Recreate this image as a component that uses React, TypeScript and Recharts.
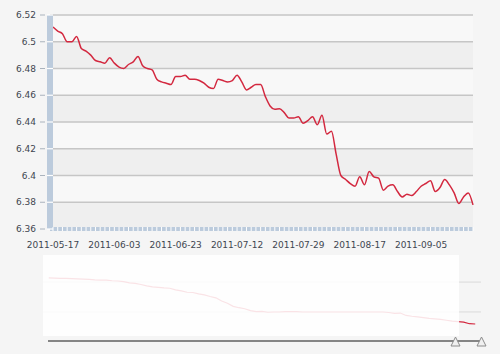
import { LineChart, Line, XAxis, YAxis, CartesianGrid, ReferenceArea } from 'recharts';

// daily fixing, business days only (Jun 6 and Sep 12 are holidays)
const dates = [
  '2011-05-17', '2011-05-18', '2011-05-19', '2011-05-20', '2011-05-23', '2011-05-24', '2011-05-25',
  '2011-05-26', '2011-05-27', '2011-05-30', '2011-05-31', '2011-06-01', '2011-06-02', '2011-06-03',
  '2011-06-07', '2011-06-08', '2011-06-09', '2011-06-10', '2011-06-13', '2011-06-14', '2011-06-15',
  '2011-06-16', '2011-06-17', '2011-06-20', '2011-06-21', '2011-06-22', '2011-06-23', '2011-06-24',
  '2011-06-27', '2011-06-28', '2011-06-29', '2011-06-30', '2011-07-01', '2011-07-04', '2011-07-05',
  '2011-07-06', '2011-07-07', '2011-07-08', '2011-07-11', '2011-07-12', '2011-07-13', '2011-07-14',
  '2011-07-15', '2011-07-18', '2011-07-19', '2011-07-20', '2011-07-21', '2011-07-22', '2011-07-25',
  '2011-07-26', '2011-07-27', '2011-07-28', '2011-07-29', '2011-08-01', '2011-08-02', '2011-08-03',
  '2011-08-04', '2011-08-05', '2011-08-08', '2011-08-09', '2011-08-10', '2011-08-11', '2011-08-12',
  '2011-08-15', '2011-08-16', '2011-08-17', '2011-08-18', '2011-08-19', '2011-08-22', '2011-08-23',
  '2011-08-24', '2011-08-25', '2011-08-26', '2011-08-29', '2011-08-30', '2011-08-31', '2011-09-01',
  '2011-09-02', '2011-09-05', '2011-09-06', '2011-09-07', '2011-09-08', '2011-09-09', '2011-09-13',
  '2011-09-14', '2011-09-15', '2011-09-16', '2011-09-19', '2011-09-20', '2011-09-21',
];

const rates = [
  6.511, 6.508, 6.506, 6.5, 6.5, 6.504, 6.495, 6.493, 6.49, 6.486,
  6.485, 6.484, 6.488, 6.484, 6.481, 6.48, 6.483, 6.485, 6.489, 6.482,
  6.48, 6.479, 6.472, 6.47, 6.469, 6.468, 6.474, 6.474, 6.475, 6.472,
  6.472, 6.471, 6.469, 6.466, 6.465, 6.472, 6.471, 6.47, 6.471, 6.475,
  6.47, 6.464, 6.466, 6.468, 6.468, 6.459, 6.452, 6.4495, 6.45, 6.447,
  6.443, 6.443, 6.444, 6.439, 6.441, 6.444, 6.438, 6.445, 6.431, 6.433,
  6.416, 6.4, 6.397, 6.394, 6.392, 6.399, 6.393, 6.403, 6.399, 6.398,
  6.389, 6.392, 6.393, 6.388, 6.384, 6.386, 6.385, 6.388, 6.392, 6.394,
  6.396, 6.388, 6.391, 6.397, 6.393, 6.387, 6.379, 6.384, 6.387, 6.378,
];

const yTicks = [
  6.36, 6.37, 6.38, 6.39, 6.4, 6.41, 6.42, 6.43, 6.44,
  6.45, 6.46, 6.47, 6.48, 6.49, 6.5, 6.51, 6.52,
];
const yGrid = [6.36, 6.38, 6.4, 6.42, 6.44, 6.46, 6.48, 6.5, 6.52];

// scrollbar overview: monthly, 2005-07 .. 2011-09
const navMonths = [
  '2005-07', '2005-08', '2005-09', '2005-10', '2005-11', '2005-12',
  '2006-01', '2006-02', '2006-03', '2006-04', '2006-05', '2006-06',
  '2006-07', '2006-08', '2006-09', '2006-10', '2006-11', '2006-12',
  '2007-01', '2007-02', '2007-03', '2007-04', '2007-05', '2007-06',
  '2007-07', '2007-08', '2007-09', '2007-10', '2007-11', '2007-12',
  '2008-01', '2008-02', '2008-03', '2008-04', '2008-05', '2008-06',
  '2008-07', '2008-08', '2008-09', '2008-10', '2008-11', '2008-12',
  '2009-01', '2009-02', '2009-03', '2009-04', '2009-05', '2009-06',
  '2009-07', '2009-08', '2009-09', '2009-10', '2009-11', '2009-12',
  '2010-01', '2010-02', '2010-03', '2010-04', '2010-05', '2010-06',
  '2010-07', '2010-08', '2010-09', '2010-10', '2010-11', '2010-12',
  '2011-01', '2011-02', '2011-03', '2011-04', '2011-05', '2011-06',
  '2011-07', '2011-08', '2011-09',
];
const navRates = [
  8.11, 8.1, 8.09, 8.09, 8.08, 8.07,
  8.06, 8.05, 8.03, 8.02, 8.02, 8.0,
  7.99, 7.97, 7.92, 7.9, 7.86, 7.81,
  7.77, 7.75, 7.73, 7.72, 7.66, 7.62,
  7.57, 7.56, 7.51, 7.47, 7.41, 7.36,
  7.24, 7.16, 7.04, 6.99, 6.95, 6.88,
  6.84, 6.85, 6.82, 6.83, 6.83, 6.84,
  6.84, 6.84, 6.83, 6.83, 6.83, 6.83,
  6.83, 6.83, 6.83, 6.83, 6.83, 6.83,
  6.83, 6.83, 6.83, 6.83, 6.83, 6.81,
  6.78, 6.79, 6.7, 6.67, 6.65, 6.62,
  6.59, 6.57, 6.55, 6.52, 6.49, 6.47,
  6.45, 6.39, 6.38,
];
const navGrid = [6.83, 7.39, 7.95];

const mainData = dates.map((date, i) => ({ date, rate: rates[i] }));
const navData = navMonths.map((month, i) => ({ t: i, month, rate: navRates[i] }));

const TEXT = '#3e4650';
const BAR = '#bccbdc';
const RED = '#d3283f';

function YTick(props: any) {
  const { x, y, payload } = props;
  const v = payload.value as number;
  const major = Math.round(v * 100) % 2 === 0;
  return (
    <g>
      <line x1={x - 3} x2={x + 3} y1={y} y2={y} stroke="#fff" strokeWidth={1.2} />
      {major && <line x1={x - 10} x2={x - 5} y1={y} y2={y} stroke="#aab3bd" strokeWidth={1} />}
      {major && (
        <text x={x - 14} y={y} dy="0.35em" textAnchor="end" fontSize={9} fill={TEXT}>
          {String(v)}
        </text>
      )}
    </g>
  );
}

function XTick(props: any) {
  const { x, y, payload, index } = props;
  return (
    <g>
      <line x1={x} x2={x} y1={y - 2} y2={y + 2} stroke="#fff" strokeWidth={1} />
      {index % 13 === 0 && (
        <text x={x} y={y + 18.5} textAnchor="middle" fontSize={9} fill={TEXT}>
          {payload.value}
        </text>
      )}
    </g>
  );
}

export default function App() {
  return (
    <div
      style={{
        position: 'absolute',
        left: 0,
        top: 0,
        width: 500,
        height: 354,
        background: '#f5f5f5',
        fontFamily: '"DejaVu Sans", Verdana, sans-serif',
        overflow: 'hidden',
      }}
    >
      <div style={{ position: 'absolute', left: 0, top: 0 }}>
        <LineChart width={500} height={255} data={mainData} margin={{ top: 15, right: 27, bottom: 0, left: 0 }}>
          <CartesianGrid
            vertical={false}
            horizontalValues={yGrid}
            stroke="#c6c6c6"
            strokeWidth={1.5}
            horizontalFill={['#f8f8f8', '#efefef']}
          />
          <XAxis
            dataKey="date"
            interval={0}
            padding={{ left: 3, right: 0 }}
            height={26}
            axisLine={{ stroke: BAR, strokeWidth: 4 }}
            tickLine={false}
            tickSize={0}
            tickMargin={0}
            tick={<XTick />}
          />
          <YAxis
            domain={[6.36, 6.52]}
            ticks={yTicks}
            allowDataOverflow
            width={50}
            axisLine={{ stroke: BAR, strokeWidth: 6 }}
            tickLine={false}
            tickSize={0}
            tickMargin={0}
            tick={<YTick />}
          />
          <Line
            dataKey="rate"
            type="monotone"
            stroke={RED}
            strokeWidth={1.5}
            dot={false}
            isAnimationActive={false}
          />
        </LineChart>
      </div>

      <div style={{ position: 'absolute', left: 43, top: 255 }}>
        <LineChart width={438} height={81} data={navData} margin={{ top: 0, right: 0, bottom: 0, left: 0 }}>
          <CartesianGrid vertical={false} horizontalValues={navGrid} stroke="#dadada" />
          <XAxis type="number" dataKey="t" domain={[-1, 75]} allowDataOverflow hide />
          <YAxis domain={[5.93, 8.965]} allowDataOverflow hide />
          <Line
            dataKey="rate"
            type="linear"
            stroke={RED}
            strokeWidth={1.2}
            dot={false}
            isAnimationActive={false}
          />
          <ReferenceArea
            x1={-1}
            x2={71.2}
            fill="#ffffff"
            fillOpacity={0.87}
            stroke="none"
            ifOverflow="visible"
            zIndex={450}
          />
        </LineChart>
      </div>

      <svg width={500} height={354} style={{ position: 'absolute', left: 0, top: 0, pointerEvents: 'none' }}>
        <line x1={48} x2={482} y1={341} y2={341} stroke="#858585" strokeWidth={2} />
        <polygon points="455.5,337 460,346 451,346" fill="#f0f0f0" stroke="#8c8c8c" strokeWidth={1} />
        <polygon points="481.5,337 486,346 477,346" fill="#f0f0f0" stroke="#8c8c8c" strokeWidth={1} />
      </svg>
    </div>
  );
}
